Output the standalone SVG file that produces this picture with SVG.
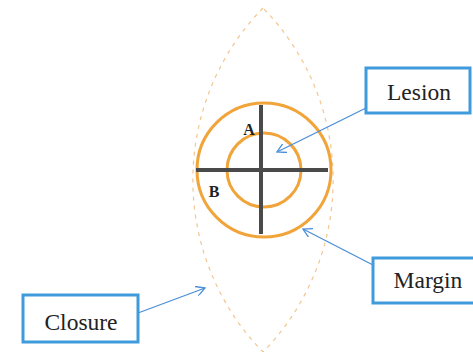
<svg xmlns="http://www.w3.org/2000/svg" width="473" height="352" viewBox="0 0 473 352">
<style>
.lens{fill:none;stroke:#f2c690;stroke-width:1.2;stroke-dasharray:4 5}
.ring{fill:none;stroke:#f0a43a;stroke-width:3}
.bar{stroke:#4a4a4a;stroke-width:4}
.box{fill:#fff;stroke:#3f9bdc;stroke-width:3}
.lbl{font-family:"Liberation Serif",serif;font-size:23.5px;fill:#222;text-anchor:middle}
.ab{font-family:"Liberation Serif",serif;font-size:16px;font-weight:bold;fill:#222;text-anchor:middle}
.conn{fill:none;stroke:#4a8fd8;stroke-width:1.3}
</style>
<defs>
<marker id="ah" viewBox="0 0 10 10" refX="9" refY="5" markerWidth="10" markerHeight="10" markerUnits="userSpaceOnUse" orient="auto">
<path d="M0,0 L9,5 L0,10" fill="none" stroke="#4a8fd8" stroke-width="1.3"/>
</marker>
</defs>
<rect width="473" height="352" fill="#fff"/>
<g id="closure-lens">
<path class="lens" d="M263,8 A246,246 0 0 0 263,352 A246,246 0 0 0 263,8"/>
</g>
<g id="margin-ring">
<circle class="ring" cx="264" cy="170" r="67"/>
</g>
<g id="lesion-ring">
<circle class="ring" cx="264" cy="170" r="37" fill="#fffdf3"/>
</g>
<g id="axes">
<line class="bar" x1="261" y1="105" x2="261" y2="234"/>
<line class="bar" x1="196" y1="170" x2="328" y2="170"/>
<text class="ab" x="249" y="135">A</text>
<text class="ab" x="214" y="197">B</text>
</g>
<g id="connectors">
<line class="conn" x1="366" y1="108" x2="277" y2="152" marker-end="url(#ah)"/>
<line class="conn" x1="373" y1="265" x2="303" y2="229" marker-end="url(#ah)"/>
<line class="conn" x1="138" y1="313" x2="205" y2="288" marker-end="url(#ah)"/>
</g>
<g id="lesion">
<rect class="box" x="366" y="68" width="104" height="45"/>
<text class="lbl" x="419" y="100">Lesion</text>
</g>
<g id="margin">
<rect class="box" x="373" y="258" width="102" height="45"/>
<text class="lbl" x="428" y="288">Margin</text>
</g>
<g id="closure">
<rect class="box" x="23" y="295" width="115" height="47"/>
<text class="lbl" x="81" y="330">Closure</text>
</g>
</svg>
